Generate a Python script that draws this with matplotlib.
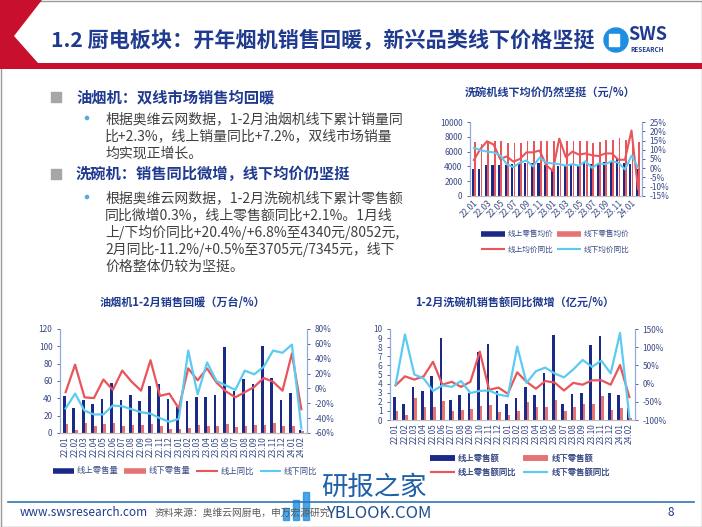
import matplotlib.pyplot as plt
import numpy as np
from matplotlib.patches import Rectangle, Polygon, Circle
from matplotlib.lines import Line2D

plt.rcParams['font.family'] = ['Noto Sans CJK SC', 'DejaVu Sans']

# ---- data ----
months = ['22.01', '22.02', '22.03', '22.04', '22.05', '22.06', '22.07', '22.08', '22.09',
          '22.10', '22.11', '22.12', '23.01', '23.02', '23.03', '23.04', '23.05', '23.06',
          '23.07', '23.08', '23.09', '23.10', '23.11', '23.12', '24.01', '24.02']

# dishwasher average price (yuan / %)
price_online = [3600, 3600, 4200, 4200, 4200, 4200, 4300, 4300, 4500, 4400, 4500, 4200, 3500,
                4100, 4200, 4300, 4200, 4600, 4300, 4500, 4600, 4700, 5000, 4500, 4340, 3705]
price_offline = [7300, 7000, 7400, 7400, 7400, 7200, 7200, 7100, 7500, 7400, 7500, 7500, 7500,
                 7400, 7500, 7500, 7500, 7500, 7200, 7300, 7600, 7600, 7900, 7600, 8052, 7345]
price_online_yoy = [4.5, 10.5, 14.6, 12.8, 5, 6.4, 3.6, 5, 8.6, 8.6, 9.6, 1.7, -1.4,
                    16, 6, 9, 7.4, 8, 7, 6.6, 8, 8, 4.6, 4.6, 20.4, -11.2]
price_offline_yoy = [11, 9.8, 9, 8.6, 7, 2.2, 0.6, 3, 4.2, 1, 5.8, 3, 2.6,
                     2.2, 1.4, 2.2, 1.4, 3.8, 0.2, 2.6, 2.2, 3.8, 3, -0.6, 6.8, 0.5]

# range hood sales (10k units / %)
hood_online = [43, 29, 38, 33, 39, 58, 38, 44, 37, 54, 57, 39, 30,
               37, 42, 42, 44, 99, 48, 62, 57, 100, 63, 38, 46, 3]
hood_offline = [10, 4, 12, 8, 10, 12, 8, 9, 9, 10, 8, 5, 5,
                6, 9, 8, 8, 10, 7, 8, 9, 9, 11, 8, 8, 2]
hood_online_yoy = [-5, 32, -12, -13, 12, -2, 24, 9, -3, 38, -10, -7, -27,
                   27, 11, 27, 8, -4, -12, -5, 2, 14, 9, -3, 47, -28]
hood_offline_yoy = [-27, -7, -30, -35, -35, -23, -24, -28, -32, -34, -40, -45, -41,
                    51, -8, 35, 10, 4, -2, 24, 19, 29, 51, 48, 59, -54]

# dishwasher sales amount (100m yuan / %)
dw_online = [2.5, 1.8, 3.6, 3.2, 4.8, 9.0, 2.2, 2.8, 3.0, 7.5, 8.3, 3.2, 1.8,
             2.4, 3.6, 2.8, 5.2, 9.3, 1.8, 2.9, 3.0, 8.2, 9.2, 3.0, 2.7, 1.3]
dw_offline = [1.0, 0.5, 2.4, 1.4, 1.4, 2.1, 1.0, 1.1, 1.2, 1.5, 1.6, 0.9, 0.5,
              1.0, 2.0, 1.4, 1.4, 2.2, 1.0, 1.4, 1.8, 1.8, 2.6, 1.1, 1.3, 0.2]
dw_online_yoy = [-5, 20, 11, 20, 60, -3, 5, -9, 5, 88, -17, -11, -28,
                 31, 5, -14, 7, 3, -19, 2, -3, 9, 9, -3, 51, -37]
dw_offline_yoy = [-3, 135, 25, 14, -20, -5, -9, 7, -26, -20, -19, -30, -35,
                  102, 2, 34, 44, 28, 17, 39, 65, 46, 63, 28, 139, -93]

NAVY = '#1B2A86'
RED = '#E8555A'
PINK = '#E57373'
CYAN = '#5CCBF2'
TXT = '#3B4B86'
SPINE = '#8EA9DB'
TITLE = '#1F3A8F'

W, H = 702, 527
fig = plt.figure(figsize=(W / 100, H / 100), dpi=100)

# background layer in pixel coordinates
bg = fig.add_axes([0, 0, 1, 1], zorder=-5)
bg.set_xlim(0, W)
bg.set_ylim(H, 0)
bg.axis('off')

bg.add_patch(Rectangle((0.5, 0.5), W - 1, H - 1, fill=False, ec='#9A9A9A', lw=1))
bg.add_patch(Polygon([(0, 0), (42, 0), (14, 36), (38, 63), (W, 63), (W, 69), (0, 69)],
                     closed=True, color='#C8102E', lw=0))
bg.text(51, 40, '1.2 厨电板块：开年烟机销售回暖，新兴品类线下价格坚挺',
        fontsize=15.2, fontweight='bold', color=TITLE, va='center')

# logo
bg.add_patch(Circle((616, 40), 12, color='#1E8FE0'))
bg.add_patch(Rectangle((609, 34), 10, 12, color='white'))
bg.text(628, 34, 'SWS', fontsize=13, fontweight='bold', color=TITLE, va='center')
bg.text(630, 49, 'RESEARCH', fontsize=4.5, fontweight='bold', color=TITLE, va='center')

# left text block
body = '#404040'
for y in (97, 174):
    bg.add_patch(Rectangle((51, y - 5), 10, 10, color='#A6A6A6'))
for y in (118, 197):
    bg.add_patch(Circle((87, y), 1.6, color='#5BA8E0'))
bg.text(76, 97, '油烟机：双线市场销售均回暖', fontsize=11, fontweight='bold',
        color=TITLE, va='center')
bg.text(76, 174, '洗碗机：销售同比微增，线下均价仍坚挺', fontsize=11, fontweight='bold',
        color=TITLE, va='center')
para1 = ['根据奥维云网数据，1-2月油烟机线下累计销量同',
         '比+2.3%，线上销量同比+7.2%，双线市场销量',
         '均实现正增长。']
para2 = ['根据奥维云网数据，1-2月洗碗机线下累计零售额',
         '同比微增0.3%，线上零售额同比+2.1%。1月线',
         '上/下均价同比+20.4%/+6.8%至4340元/8052元,',
         '2月同比-11.2%/+0.5%至3705元/7345元，线下',
         '价格整体仍较为坚挺。']
for i, line in enumerate(para1):
    bg.text(105, 119 + i * 17.3, line, fontsize=10, color=body, va='center')
for i, line in enumerate(para2):
    bg.text(105, 198 + i * 17.2, line, fontsize=10, color=body, va='center')

# footer
bg.plot([8, 694], [502, 502], color='#2E75B6', lw=1.2)
bg.text(20, 513, 'www.swsresearch.com', fontsize=8.5, color=TITLE, va='center')
bg.text(155, 513, '资料来源：奥维云网厨电，申万宏源研究', fontsize=7, color='#595959', va='center')
bg.text(668, 513, '8', fontsize=8.5, color=TITLE, va='center')
# watermark
for i, hgt in enumerate([12, 20, 28]):
    bg.add_patch(Rectangle((283 + i * 10, 520 - hgt), 6, hgt, color='#1E8FE0', alpha=0.8))
bg.text(321, 487, '研报之家', fontsize=19, color='#1F5FA8', va='center')
bg.text(326, 513, 'YBLOOK.COM', fontsize=12, color='#1F4E8F', va='center')

x = np.arange(len(months))


def px_axes(x0, y0, x1, y1):
    return fig.add_axes([x0 / W, 1 - y1 / H, (x1 - x0) / W, (y1 - y0) / H])


def style(ax, axr):
    for a in (ax, axr):
        a.spines['top'].set_visible(False)
        a.spines['left'].set_color(SPINE)
        a.spines['right'].set_color(SPINE)
        a.spines['bottom'].set_color('#BFBFBF')
        a.tick_params(colors=TXT, labelsize=6, length=2, width=0.6)
    ax.tick_params(axis='x', length=0, pad=2)
    ax.set_xlim(-0.6, len(months) - 0.4)


def add_legend(labels, cx, cy, ncol, **kw):
    handles = [Line2D([], [], color=NAVY, lw=4, solid_capstyle='butt'),
               Line2D([], [], color=PINK, lw=4, solid_capstyle='butt'),
               Line2D([], [], color=RED, lw=1.5, solid_capstyle='butt'),
               Line2D([], [], color=CYAN, lw=1.5, solid_capstyle='butt')]
    labels = list(labels)
    if ncol == 2:
        # matplotlib fills columns first; keep row order as in the slide
        order = [0, 2, 1, 3]
        handles = [handles[i] for i in order]
        labels = [labels[i] for i in order]
    leg = bg.legend(handles, labels, loc='center', bbox_to_anchor=(cx, cy), ncol=ncol,
                    bbox_transform=bg.transData, frameon=False, labelcolor=TXT, **kw)
    bg.add_artist(leg)


# ---- chart 1: dishwasher offline price ----
ax = px_axes(470, 122, 642, 196)
ax.bar(x - 0.17, price_online, width=0.32, color=NAVY)
ax.bar(x + 0.17, price_offline, width=0.26, color=RED)
ax.set_ylim(0, 10000)
ax.set_yticks(range(0, 10001, 2000))
axr = ax.twinx()
axr.plot(x, price_online_yoy, color=RED, lw=1.5)
axr.plot(x, price_offline_yoy, color=CYAN, lw=1.5)
axr.set_ylim(-15, 25)
axr.set_yticks(range(-15, 26, 5))
axr.set_yticklabels([f'{v}%' for v in range(-15, 26, 5)])
style(ax, axr)
ax.set_xticks(x[::2])
ax.set_xticklabels(months[::2], rotation=45, ha='right', rotation_mode='anchor')
bg.text(550, 92, '洗碗机线下均价仍然坚挺（元/%）', ha='center', va='center',
        fontsize=8, fontweight='bold', color=TITLE)
add_legend(['线上零售均价', '线下零售均价', '线上均价同比', '线下均价同比'], 555, 242, 2,
           fontsize=5.5, handlelength=3.2, handletextpad=0.3,
           columnspacing=0.5, labelspacing=1.0)

# ---- chart 2: range hood ----
ax = px_axes(60, 329, 307, 433)
ax.bar(x - 0.14, hood_online, width=0.28, color=NAVY)
ax.bar(x + 0.14, hood_offline, width=0.28, color=PINK)
ax.set_ylim(0, 120)
ax.set_yticks(range(0, 121, 20))
axr = ax.twinx()
axr.plot(x, hood_online_yoy, color=RED, lw=1.6)
axr.plot(x, hood_offline_yoy, color=CYAN, lw=1.6)
axr.set_ylim(-60, 80)
axr.set_yticks(range(-60, 81, 20))
axr.set_yticklabels([f'{v}%' for v in range(-60, 81, 20)])
style(ax, axr)
ax.set_xticks(x)
ax.set_xticklabels(months, rotation=90)
bg.text(182, 302, '油烟机1-2月销售回暖（万台/%）', ha='center', va='center',
        fontsize=8, fontweight='bold', color=TITLE)
add_legend(['线上零售量', '线下零售量', '线上同比', '线下同比'], 185, 471, 4,
           fontsize=6, handlelength=2.6, handletextpad=0.3, columnspacing=0.7)

# ---- chart 3: dishwasher sales amount ----
ax = px_axes(390, 329, 635, 420)
ax.bar(x - 0.14, dw_online, width=0.28, color=NAVY)
ax.bar(x + 0.14, dw_offline, width=0.28, color=PINK)
ax.set_ylim(0, 10)
ax.set_yticks(range(0, 11))
axr = ax.twinx()
axr.plot(x, dw_online_yoy, color=RED, lw=1.6)
axr.plot(x, dw_offline_yoy, color=CYAN, lw=1.6)
axr.set_ylim(-100, 150)
axr.set_yticks(range(-100, 151, 50))
axr.set_yticklabels([f'{v}%' for v in range(-100, 151, 50)])
style(ax, axr)
ax.set_xticks(x)
ax.set_xticklabels(months, rotation=90)
bg.text(515, 302, '1-2月洗碗机销售额同比微增（亿元/%）', ha='center', va='center',
        fontsize=8, fontweight='bold', color=TITLE)
add_legend(['线上零售额', '线下零售额', '线上零售额同比', '线下零售额同比'], 520, 465, 2,
           fontsize=6, handlelength=3.0, handletextpad=0.4,
           columnspacing=0.8, labelspacing=0.6)

fig.savefig('out.png', dpi=100)
